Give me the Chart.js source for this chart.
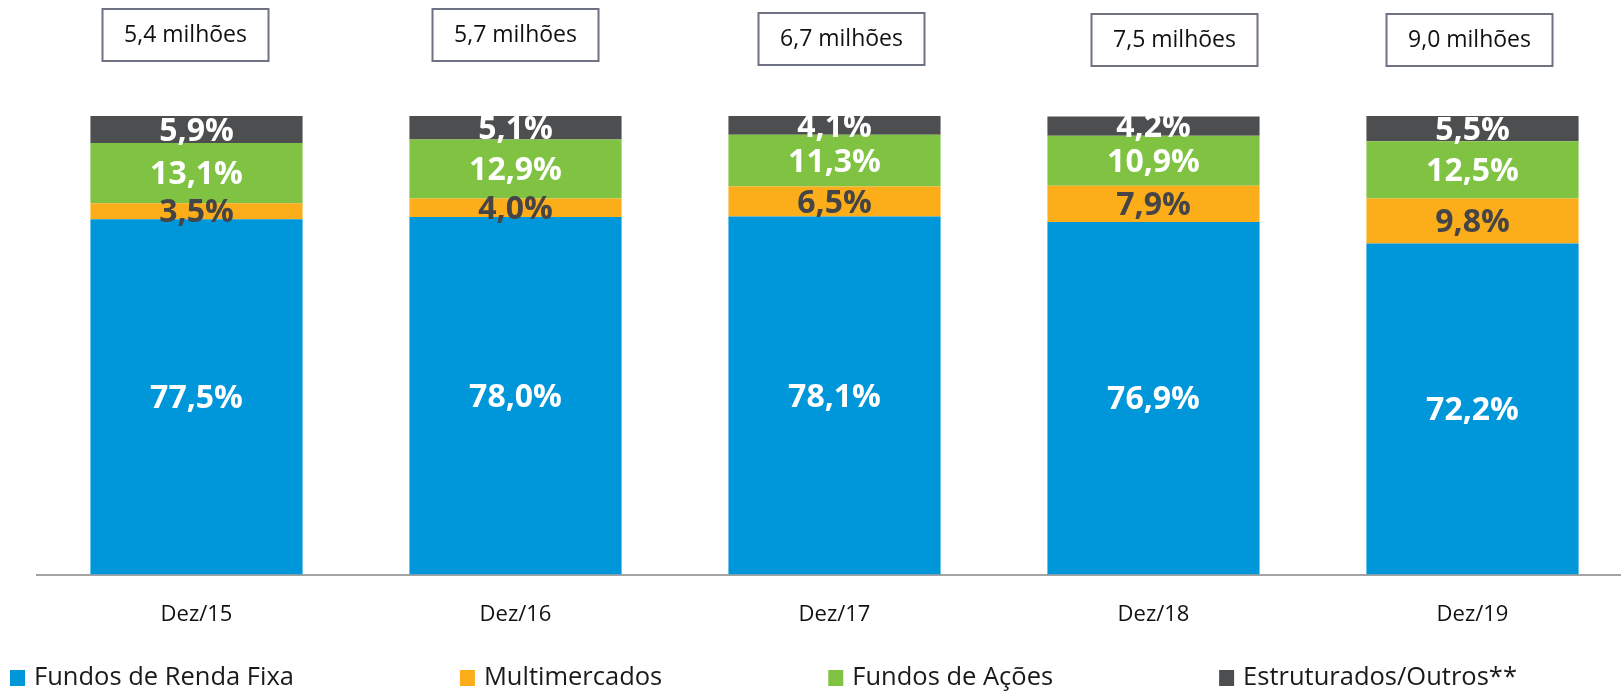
<!DOCTYPE html>
<html lang="pt-BR">
<head>
    <meta charset="UTF-8">
    <title>Distribuição por tipo de fundo</title>
    <script src="https://cdn.jsdelivr.net/npm/chart.js"></script>
    <style>
        * {
            margin: 0;
            padding: 0;
            box-sizing: border-box;
        }

        html, body {
            overflow: hidden;
            background-color: #fff;
            font-family: 'Open Sans', sans-serif;
        }

        /* a bit wider than the window: the last bar sits close to the right edge */
        .chart-box {
            width: 1632px;
            height: 692px;
            position: relative;
        }
    </style>
</head>
<body>
    <div class="chart-box">
        <canvas id="fundsChart"></canvas>
    </div>

    <script>
        // Data
        const categories = ['Dez/15', 'Dez/16', 'Dez/17', 'Dez/18', 'Dez/19'];
        const rendaFixa = [77.5, 78.0, 78.1, 76.9, 72.2];
        const multimercados = [3.5, 4.0, 6.5, 7.9, 9.8];
        const acoes = [13.1, 12.9, 11.3, 10.9, 12.5];
        const estruturados = [5.9, 5.1, 4.1, 4.2, 5.5];
        const totalMilhoes = [5.4, 5.7, 6.7, 7.5, 9.0];

        // Layout of the boxes with the totals (small nudges, like the slide)
        const boxShift = [-11, 0, 7, 21, -3];
        const boxTop = [9, 9, 13, 14, 14];

        const fmt = v => v.toFixed(1).replace('.', ',');

        // Percent labels inside the bar segments
        const segmentLabels = {
            id: 'segmentLabels',
            afterDatasetsDraw(chart) {
                const ctx = chart.ctx;
                ctx.save();
                ctx.font = 'bold 32px "Open Sans"';
                ctx.textAlign = 'center';
                ctx.textBaseline = 'middle';
                chart.data.datasets.forEach((ds, i) => {
                    const meta = chart.getDatasetMeta(i);
                    meta.data.forEach((bar, j) => {
                        const y = (bar.y + bar.base) / 2 + 2;
                        ctx.fillStyle = ds.labelColor;
                        ctx.fillText(fmt(ds.data[j]) + '%', bar.x, y);
                    });
                });
                ctx.restore();
            }
        };

        // Boxes with the totals above each bar
        const totalBoxes = {
            id: 'totalBoxes',
            afterDraw(chart) {
                const ctx = chart.ctx;
                const meta = chart.getDatasetMeta(0);
                ctx.save();
                ctx.font = '23px "Open Sans"';
                ctx.textAlign = 'center';
                ctx.textBaseline = 'middle';
                meta.data.forEach((bar, j) => {
                    const cx = bar.x + boxShift[j];
                    const w = 166, h = 52;
                    ctx.fillStyle = '#fff';
                    ctx.fillRect(cx - w / 2, boxTop[j], w, h);
                    ctx.strokeStyle = '#6f7282';
                    ctx.lineWidth = 2;
                    ctx.strokeRect(cx - w / 2, boxTop[j], w, h);
                    ctx.fillStyle = '#111';
                    ctx.fillText(fmt(totalMilhoes[j]) + ' milhões', cx, boxTop[j] + h / 2);
                });
                ctx.restore();
            }
        };

        // Legend along the bottom edge
        const bottomLegend = {
            id: 'bottomLegend',
            afterDraw(chart) {
                const ctx = chart.ctx;
                ctx.save();
                ctx.font = '25.5px "Open Sans"';
                ctx.textBaseline = 'middle';
                ctx.textAlign = 'left';
                let x = 10;
                const y = 678;
                chart.data.datasets.forEach(ds => {
                    ctx.fillStyle = ds.backgroundColor;
                    ctx.fillRect(x, y - 8, 15, 16);
                    ctx.fillStyle = '#1a1a1a';
                    ctx.fillText(ds.label, x + 24, y);
                    x += 24 + ctx.measureText(ds.label).width + 166;
                });
                ctx.restore();
            }
        };

        const ctx = document.getElementById('fundsChart').getContext('2d');
        const fundsChart = new Chart(ctx, {
            type: 'bar',
            data: {
                labels: categories,
                datasets: [
                    { label: 'Fundos de Renda Fixa', data: rendaFixa, backgroundColor: '#0096da', labelColor: '#fff' },
                    { label: 'Multimercados', data: multimercados, backgroundColor: '#fbae19', labelColor: '#454547' },
                    { label: 'Fundos de Ações', data: acoes, backgroundColor: '#80c342', labelColor: '#fff' },
                    { label: 'Estruturados/Outros**', data: estruturados, backgroundColor: '#4d4e50', labelColor: '#fff' }
                ]
            },
            options: {
                responsive: true,
                maintainAspectRatio: false,
                animation: false,
                layout: {
                    padding: { left: 37, right: 0, top: 116, bottom: 37 }
                },
                datasets: {
                    bar: { categoryPercentage: 1, barPercentage: 0.665 }
                },
                scales: {
                    x: {
                        stacked: true,
                        grid: { display: false, drawTicks: false },
                        border: { color: '#a3a3a3', width: 2 },
                        ticks: {
                            padding: 27,
                            color: '#111',
                            font: { family: 'Open Sans', size: 22 }
                        }
                    },
                    y: {
                        stacked: true,
                        display: false,
                        min: 0,
                        max: 100
                    }
                },
                plugins: {
                    legend: { display: false },
                    tooltip: { enabled: false }
                }
            },
            plugins: [segmentLabels, totalBoxes, bottomLegend]
        });
    </script>
</body>
</html>
